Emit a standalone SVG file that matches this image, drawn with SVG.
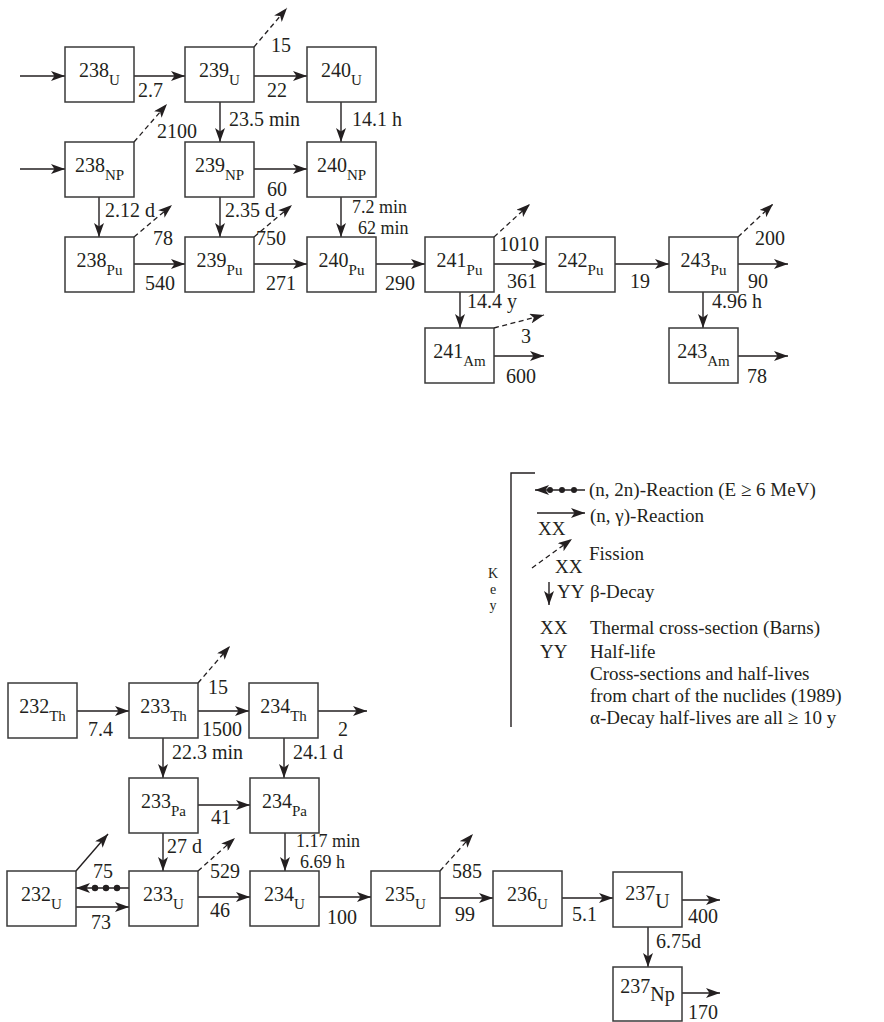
<svg xmlns="http://www.w3.org/2000/svg" width="884" height="1022" viewBox="0 0 884 1022">
<style>
.box{fill:#fff;stroke:#3a3a3a;stroke-width:1.5}
.ln{fill:none;stroke:#231f20;stroke-width:1.4;marker-end:url(#ah)}
.ds{fill:none;stroke:#231f20;stroke-width:1.3;stroke-dasharray:5,3.5;marker-end:url(#ah)}
.pl{fill:none;stroke:#231f20;stroke-width:1.4}
.dot{fill:#231f20}
text{font-family:"Liberation Serif","Times New Roman",serif;fill:#231f20}
.nm{font-size:20px;text-anchor:middle}
.sub{font-size:15px}
.bsub{font-size:20px}
.lb{font-size:20px}
.lbs{font-size:18px}
.ky{font-size:19px}
.kl{font-size:14px;text-anchor:middle}
</style>
<defs>
<marker id="ah" viewBox="0 0 14 10" refX="14" refY="5" markerWidth="14" markerHeight="10" markerUnits="userSpaceOnUse" orient="auto"><path d="M0,0 L14,5 L0,10 L3.5,5 Z" fill="#231f20"/></marker>
</defs>

<g id="connectors">
<path class="ln" d="M20,76 H65"/>
<path class="ln" d="M134,76 H185"/>
<path class="ln" d="M254,76 H307"/>
<path class="ds" d="M254,47 L287,8"/>
<path class="ln" d="M20,169 H65"/>
<path class="ds" d="M134,142 L167,104"/>
<path class="ln" d="M220,102 V142"/>
<path class="ln" d="M341,102 V142"/>
<path class="ln" d="M254,169 H307"/>
<path class="ln" d="M99,197 V237"/>
<path class="ln" d="M220,197 V237"/>
<path class="ln" d="M341,197 V237"/>
<path class="ds" d="M134,237 L172,205"/>
<path class="ds" d="M254,237 L292,205"/>
<path class="ln" d="M134,264 H185"/>
<path class="ln" d="M254,264 H307"/>
<path class="ln" d="M376,264 H425"/>
<path class="ds" d="M494,237 L530,204"/>
<path class="ln" d="M494,264 H546"/>
<path class="ln" d="M615,264 H669"/>
<path class="ds" d="M738,237 L773,204"/>
<path class="ln" d="M738,264 H788"/>
<path class="ln" d="M460,292 V328"/>
<path class="ds" d="M494,328 L544,315"/>
<path class="ln" d="M494,356 H544"/>
<path class="ln" d="M703,292 V328"/>
<path class="ln" d="M738,356 H788"/>

<path class="ln" d="M77,711 H129"/>
<path class="ds" d="M198,683 L230,646"/>
<path class="ln" d="M198,711 H249"/>
<path class="ln" d="M318,711 H367"/>
<path class="ln" d="M163,738 V778"/>
<path class="ln" d="M284,738 V778"/>
<path class="ln" d="M198,805 H250"/>
<path class="ln" d="M163,833 V871"/>
<path class="ln" d="M285,833 V871"/>
<path class="ln" d="M76,871 L108,834"/>
<path class="ln" d="M129,888 H76"/>
<circle class="dot" cx="95" cy="888" r="3.2"/>
<circle class="dot" cx="106" cy="888" r="3.2"/>
<circle class="dot" cx="117" cy="888" r="3.2"/>
<path class="ln" d="M76,907 H129"/>
<path class="ds" d="M198,871 L235,838"/>
<path class="ln" d="M198,897 H250"/>
<path class="ln" d="M319,897 H371"/>
<path class="ds" d="M440,871 L473,834"/>
<path class="ln" d="M440,898 H493"/>
<path class="ln" d="M562,898 H613"/>
<path class="ln" d="M682,900 H720"/>
<path class="ln" d="M648,927 V967"/>
<path class="ln" d="M682,993 H720"/>
</g>

<g id="labels">
<text class="lb" x="271" y="52">15</text>
<text class="lb" x="138" y="97">2.7</text>
<text class="lb" x="267" y="97">22</text>
<text class="lb" x="229" y="126">23.5 min</text>
<text class="lb" x="352" y="126">14.1 h</text>
<text class="lb" x="157" y="138">2100</text>
<text class="lb" x="267" y="196">60</text>
<text class="lb" x="105" y="217">2.12 d</text>
<text class="lb" x="225" y="217">2.35 d</text>
<text class="lbs" x="352" y="213">7.2 min</text>
<text class="lbs" x="358" y="234">62 min</text>
<text class="lb" x="153" y="245">78</text>
<text class="lb" x="256" y="245">750</text>
<text class="lb" x="145" y="290">540</text>
<text class="lb" x="266" y="290">271</text>
<text class="lb" x="385" y="290">290</text>
<text class="lb" x="499" y="251">1010</text>
<text class="lb" x="507" y="288">361</text>
<text class="lb" x="630" y="288">19</text>
<text class="lb" x="755" y="245">200</text>
<text class="lb" x="748" y="288">90</text>
<text class="lb" x="467" y="308">14.4 y</text>
<text class="lb" x="712" y="308">4.96 h</text>
<text class="lb" x="521" y="343">3</text>
<text class="lb" x="506" y="383">600</text>
<text class="lb" x="747" y="383">78</text>

<text class="lb" x="208" y="694">15</text>
<text class="lb" x="88" y="736">7.4</text>
<text class="lb" x="202" y="736">1500</text>
<text class="lb" x="338" y="736">2</text>
<text class="lb" x="172" y="759">22.3 min</text>
<text class="lb" x="293" y="759">24.1 d</text>
<text class="lb" x="211" y="824">41</text>
<text class="lb" x="167" y="853">27 d</text>
<text class="lbs" x="296" y="847">1.17 min</text>
<text class="lbs" x="300" y="868">6.69 h</text>
<text class="lb" x="93" y="878">75</text>
<text class="lb" x="210" y="878">529</text>
<text class="lb" x="91" y="929">73</text>
<text class="lb" x="210" y="917">46</text>
<text class="lb" x="327" y="924">100</text>
<text class="lb" x="452" y="878">585</text>
<text class="lb" x="455" y="921">99</text>
<text class="lb" x="572" y="921">5.1</text>
<text class="lb" x="688" y="923">400</text>
<text class="lb" x="656" y="948">6.75d</text>
<text class="lb" x="688" y="1019">170</text>
</g>

<g id="U238"><rect class="box" x="65" y="47" width="69" height="55"/><text class="nm" x="99.5" y="77">238<tspan class="sub" dy="8">U</tspan></text></g>
<g id="U239"><rect class="box" x="185" y="47" width="69" height="55"/><text class="nm" x="219.5" y="77">239<tspan class="sub" dy="8">U</tspan></text></g>
<g id="U240"><rect class="box" x="307" y="47" width="69" height="55"/><text class="nm" x="341.5" y="77">240<tspan class="sub" dy="8">U</tspan></text></g>
<g id="NP238"><rect class="box" x="65" y="142" width="69" height="55"/><text class="nm" x="99.5" y="172">238<tspan class="sub" dy="8">NP</tspan></text></g>
<g id="NP239"><rect class="box" x="185" y="142" width="69" height="55"/><text class="nm" x="219.5" y="172">239<tspan class="sub" dy="8">NP</tspan></text></g>
<g id="NP240"><rect class="box" x="307" y="142" width="69" height="55"/><text class="nm" x="341.5" y="172">240<tspan class="sub" dy="8">NP</tspan></text></g>
<g id="Pu238"><rect class="box" x="65" y="237" width="69" height="55"/><text class="nm" x="99.5" y="267">238<tspan class="sub" dy="8">Pu</tspan></text></g>
<g id="Pu239"><rect class="box" x="185" y="237" width="69" height="55"/><text class="nm" x="219.5" y="267">239<tspan class="sub" dy="8">Pu</tspan></text></g>
<g id="Pu240"><rect class="box" x="307" y="237" width="69" height="55"/><text class="nm" x="341.5" y="267">240<tspan class="sub" dy="8">Pu</tspan></text></g>
<g id="Pu241"><rect class="box" x="425" y="237" width="69" height="55"/><text class="nm" x="459.5" y="267">241<tspan class="sub" dy="8">Pu</tspan></text></g>
<g id="Pu242"><rect class="box" x="546" y="237" width="69" height="55"/><text class="nm" x="580.5" y="267">242<tspan class="sub" dy="8">Pu</tspan></text></g>
<g id="Pu243"><rect class="box" x="669" y="237" width="69" height="55"/><text class="nm" x="703.5" y="267">243<tspan class="sub" dy="8">Pu</tspan></text></g>
<g id="Am241"><rect class="box" x="425" y="328" width="69" height="55"/><text class="nm" x="459.5" y="358">241<tspan class="sub" dy="8">Am</tspan></text></g>
<g id="Am243"><rect class="box" x="669" y="328" width="69" height="55"/><text class="nm" x="703.5" y="358">243<tspan class="sub" dy="8">Am</tspan></text></g>

<g id="Th232"><rect class="box" x="8" y="683" width="69" height="55"/><text class="nm" x="42.5" y="713">232<tspan class="sub" dy="8">Th</tspan></text></g>
<g id="Th233"><rect class="box" x="129" y="683" width="69" height="55"/><text class="nm" x="163.5" y="713">233<tspan class="sub" dy="8">Th</tspan></text></g>
<g id="Th234"><rect class="box" x="249" y="683" width="69" height="55"/><text class="nm" x="283.5" y="713">234<tspan class="sub" dy="8">Th</tspan></text></g>
<g id="Pa233"><rect class="box" x="129" y="778" width="69" height="55"/><text class="nm" x="163.5" y="808">233<tspan class="sub" dy="8">Pa</tspan></text></g>
<g id="Pa234"><rect class="box" x="250" y="778" width="69" height="55"/><text class="nm" x="284.5" y="808">234<tspan class="sub" dy="8">Pa</tspan></text></g>
<g id="U232"><rect class="box" x="7" y="871" width="69" height="55"/><text class="nm" x="41.5" y="901">232<tspan class="sub" dy="8">U</tspan></text></g>
<g id="U233"><rect class="box" x="129" y="871" width="69" height="55"/><text class="nm" x="163.5" y="901">233<tspan class="sub" dy="8">U</tspan></text></g>
<g id="U234"><rect class="box" x="250" y="871" width="69" height="55"/><text class="nm" x="284.5" y="901">234<tspan class="sub" dy="8">U</tspan></text></g>
<g id="U235"><rect class="box" x="371" y="871" width="69" height="55"/><text class="nm" x="405.5" y="901">235<tspan class="sub" dy="8">U</tspan></text></g>
<g id="U236"><rect class="box" x="493" y="871" width="69" height="55"/><text class="nm" x="527.5" y="901">236<tspan class="sub" dy="8">U</tspan></text></g>
<g id="U237"><rect class="box" x="613" y="872" width="69" height="55"/><text class="nm" x="647.5" y="900">237<tspan class="bsub" dy="8">U</tspan></text></g>
<g id="Np237"><rect class="box" x="613" y="967" width="69" height="54"/><text class="nm" x="647.5" y="993">237<tspan class="bsub" dy="8">Np</tspan></text></g>

<g id="key">
<path class="pl" d="M511,727 V473 H535"/>
<text class="kl" x="493" y="578">K</text>
<text class="kl" x="493" y="594">e</text>
<text class="kl" x="493" y="610">y</text>
<path class="ln" d="M585,490 H535"/>
<circle class="dot" cx="550" cy="490" r="3"/>
<circle class="dot" cx="562" cy="490" r="3"/>
<circle class="dot" cx="574" cy="490" r="3"/>
<text class="ky" x="589" y="496">(n, 2n)-Reaction (E ≥ 6 MeV)</text>
<path class="ln" d="M537,513 H585"/>
<text class="ky" x="538" y="535">XX</text>
<text class="ky" x="590" y="522">(n, γ)-Reaction</text>
<path class="ds" d="M532,568 L572,539"/>
<text class="ky" x="555" y="573">XX</text>
<text class="ky" x="589" y="560">Fission</text>
<path class="ln" d="M549,582 V605"/>
<text class="ky" x="557" y="598">YY</text>
<text class="ky" x="590" y="598">β-Decay</text>
<text class="ky" x="540" y="634">XX</text>
<text class="ky" x="590" y="634">Thermal cross-section (Barns)</text>
<text class="ky" x="540" y="658">YY</text>
<text class="ky" x="590" y="658">Half-life</text>
<text class="ky" x="590" y="680">Cross-sections and half-lives</text>
<text class="ky" x="590" y="702">from chart of the nuclides (1989)</text>
<text class="ky" x="590" y="724">α-Decay half-lives are all ≥ 10 y</text>
</g>
</svg>
